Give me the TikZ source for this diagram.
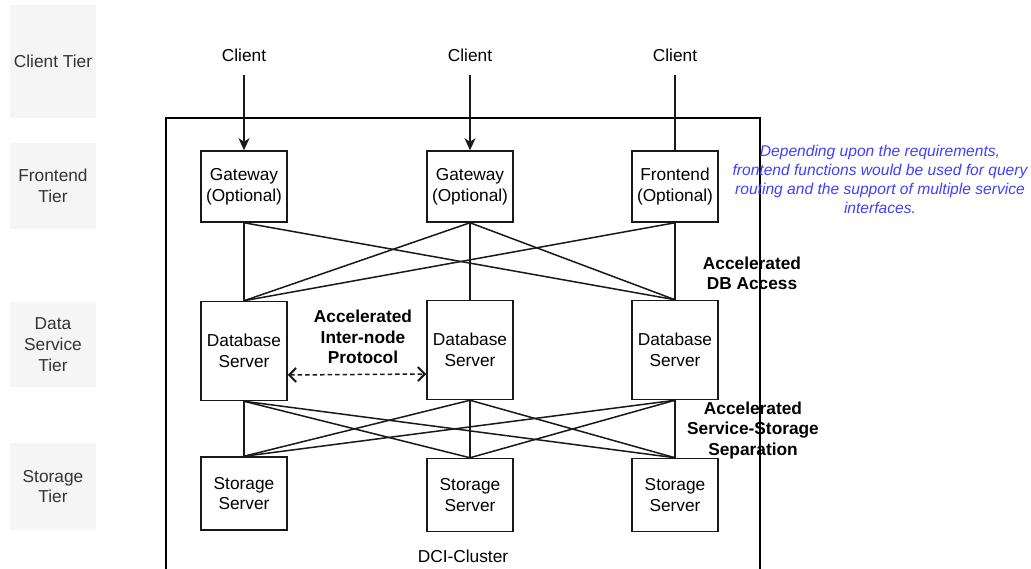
\documentclass[tikz,border=0pt]{standalone}
\usepackage{fontspec}
\setmainfont{Liberation Sans}
\usetikzlibrary{arrows.meta}
\definecolor{tierfill}{HTML}{F5F5F5}
\definecolor{tiertext}{HTML}{333333}
\definecolor{notecol}{RGB}{64,64,255}
\tikzset{
  tier/.style={fill=tierfill, text=tiertext, minimum width=86pt, inner sep=0pt, align=center, font=\fontsize{17.3}{20.8}\selectfont},
  clientlbl/.style={minimum height=40pt, inner sep=0pt, font=\fontsize{17.3}{20.8}\selectfont},
  srvbox/.style={draw=black!90, line width=1.5pt, minimum width=86pt, inner sep=0pt, align=center, font=\fontsize{17.3}{20.8}\selectfont},
  gwbox/.style={srvbox, minimum height=71pt},
  dbbox/.style={srvbox, minimum height=99pt},
  stbox/.style={srvbox, minimum height=73pt},
  link/.style={draw=black!90, line width=1.5pt},
  barb/.style={Straight Barb[length=7pt, width=14pt, line width=2pt]},
  boldlbl/.style={align=center, inner sep=0pt, font=\bfseries\fontsize{17.3}{20.3}\selectfont},
  note/.style={align=center, inner sep=0pt, text=notecol, font=\itshape\fontsize{15.6}{19}\selectfont},
}
\begin{document}
\begin{tikzpicture}[x=1pt,y=-1pt]
\useasboundingbox (0,0) rectangle (1031,569);
\fill[white] (0,0) rectangle (1031,569);

% tier labels
\node[tier, minimum height=113pt] (tclient) at (53,61.5) {Client Tier};
\node[tier, minimum height=86pt] (tfront) at (53,186) {Frontend\\Tier};
\node[tier, minimum height=85pt] (tdata) at (53,344.5) {Data\\Service\\Tier};
\node[tier, minimum height=87pt] (tstore) at (53,486.5) {Storage\\Tier};

% cluster frame
\coordinate (fbl) at (166,575);
\coordinate (ftl) at (166,118);
\coordinate (ftr) at (760,118);
\coordinate (fbr) at (760,575);
\draw[line width=1.6pt, draw=black] (fbl) -- (ftl) -- (ftr) -- (fbr);

% clients
\node[clientlbl] (c1) at (244,55) {Client};
\node[clientlbl] (c2) at (470,55) {Client};
\node[clientlbl] (c3) at (675,55) {Client};

% frontend tier
\node[gwbox] (g1) at (244,186.5) {Gateway\\(Optional)};
\node[gwbox] (g2) at (470,186.5) {Gateway\\(Optional)};
\node[gwbox] (g3) at (675,186.5) {Frontend\\(Optional)};

% database tier
\node[dbbox] (d1) at (244,351) {Database\\Server};
\node[dbbox] (d2) at (470,350) {Database\\Server};
\node[dbbox] (d3) at (675,350) {Database\\Server};

% storage tier
\node[stbox] (s1) at (244,493.5) {Storage\\Server};
\node[stbox] (s2) at (470,495) {Storage\\Server};
\node[stbox] (s3) at (675,495) {Storage\\Server};

% client arrows
\draw[link, -{Stealth[length=12pt, width=11pt, inset=3.5pt]}] (c1.south) -- (g1.north);
\draw[link, -{Stealth[length=12pt, width=11pt, inset=3.5pt]}] (c2.south) -- (g2.north);
\draw[link] (c3.south) -- (g3.north);

% frontend -> database
\draw[link] (g1.south) -- (d1.north);
\draw[link] (g1.south) -- (d3.north);
\draw[link] (g2.south) -- (d1.north);
\draw[link] (g2.south) -- (d2.north);
\draw[link] (g2.south) -- (d3.north);
\draw[link] (g3.south) -- (d1.north);
\draw[link] (g3.south) -- (d3.north);

% database -> storage
\foreach \d in {d1,d2,d3}{
  \foreach \s in {s1,s2,s3}{
    \draw[link] (\d.south) -- (\s.north);
  }
}

% inter-node protocol
\draw[link, dash pattern=on 4.5pt off 3pt, {Straight Barb[length=7pt, width=14pt, line width=2pt]}-{Straight Barb[length=7pt, width=14pt, line width=2pt]}]
  ([yshift=-24pt]d1.east) -- ([yshift=-24pt]d2.west);

% labels
\node[boldlbl] (lproto) at (363,337) {Accelerated\\Inter-node\\Protocol};
\node[boldlbl] (ldb) at (752,273) {Accelerated\\DB Access};
\node[boldlbl] (lsep) at (753,430.5) {Accelerated\\Service-Storage\\Separation};
\node[note] (nfront) at (880,179.5) {Depending upon the requirements,\\frontend functions would be used for query\\routing and the support of multiple service\\interfaces.};
\node[inner sep=0pt, font=\fontsize{17.3}{20.8}\selectfont] (lcluster) at (463,556) {DCI-Cluster};
\end{tikzpicture}
\end{document}
